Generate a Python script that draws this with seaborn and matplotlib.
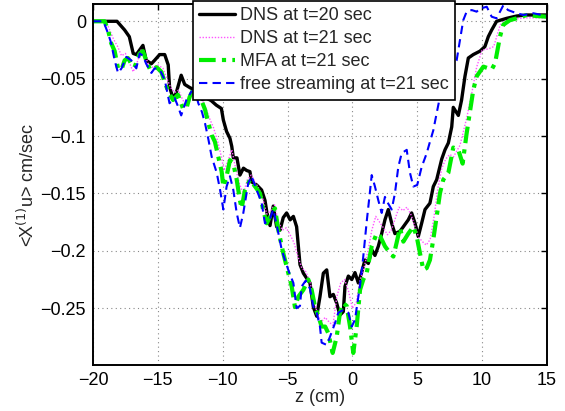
import numpy as np
import pandas as pd
import matplotlib
matplotlib.use("Agg")
import matplotlib.pyplot as plt
import seaborn as sns

# ---- data ----
z_dns20 = [-20, -18.15, -17.56, -17.2, -16.9, -16.66, -16.15, -15.9, -15.5, -15.25, -14.86, -14.47,
           -14.2, -14.1, -13.83, -13.6, -13.2, -12.93, -12.5, -12.1, -11.6, -11.26, -10.9, -10.5,
           -10.1, -9.95, -9.7, -9.44, -9.3, -9.18, -8.9, -8.67, -8.4, -8.15, -7.9, -7.76, -7.38,
           -7.0, -6.74, -6.6, -6.35, -6.1, -5.84, -5.58, -5.33, -5.07, -4.8, -4.55, -4.3, -4.04,
           -3.78, -3.52, -3.27, -3.01, -2.75, -2.5, -2.24, -1.98, -1.73, -1.47, -1.21, -0.96,
           -0.70, -0.57, -0.31, -0.05, 0.2, 0.46, 0.71, 0.97, 1.23, 1.49, 1.74, 2.0, 2.26, 2.51,
           2.77, 3.03, 3.28, 3.67, 3.93, 4.31, 4.57, 4.83, 5.08, 5.34, 5.6, 5.98, 6.24, 6.5,
           6.89, 7.14, 7.4, 7.66, 7.78, 8.17, 8.42, 8.68, 8.94, 9.32, 9.84, 10.22, 10.48, 10.74,
           11.12, 11.9, 12.67, 13.44, 14.2, 15]
u_dns20 = [0, 0, -0.0076, -0.0134, -0.028, -0.029, -0.021, -0.034, -0.037, -0.034, -0.029, -0.029,
           -0.038, -0.057, -0.067, -0.063, -0.047, -0.055, -0.058, -0.060, -0.068, -0.067, -0.069, -0.073,
           -0.076, -0.086, -0.096, -0.102, -0.109, -0.119, -0.119, -0.134, -0.128, -0.130, -0.131, -0.140, -0.1426,
           -0.147, -0.156, -0.166, -0.178, -0.161, -0.179, -0.182, -0.171, -0.167, -0.173, -0.170, -0.179, -0.212,
           -0.2195, -0.224, -0.228, -0.249, -0.257, -0.240, -0.2195, -0.2166, -0.240, -0.238, -0.2456, -0.256,
           -0.253, -0.231, -0.222, -0.225, -0.219, -0.228, -0.219, -0.208, -0.211, -0.199, -0.204, -0.196, -0.185, -0.173,
           -0.164, -0.176, -0.185, -0.183, -0.179, -0.173, -0.167, -0.176, -0.1876, -0.176, -0.164, -0.1585, -0.144, -0.138,
           -0.120, -0.112, -0.106, -0.092, -0.075, -0.082, -0.0686, -0.048, -0.032, -0.029, -0.026, -0.022, -0.0134, -0.0076,
           0.0, 0.0026, 0.0046, 0.0055, 0.0055, 0.0055]

z_dns21 = [-20, -19.0, -18.7, -18.4, -18.1, -17.8, -17.5, -17.2, -16.9, -16.6, -16.3, -16.0, -15.7,
           -15.4, -15.0, -14.6, -14.3, -14.0, -13.7, -13.4, -13.1, -12.8, -12.5, -12.2, -11.9, -11.6,
           -11.3, -11.0, -10.7, -10.4, -10.1, -9.9, -9.6, -9.3, -9.0, -8.7, -8.4, -8.1, -7.8, -7.5,
           -7.2, -6.9, -6.6, -6.3, -6.0, -5.7, -5.4, -5.1, -4.8, -4.5, -4.2, -3.9, -3.6, -3.3, -3.0,
           -2.7, -2.4, -2.1, -1.8, -1.5, -1.2, -0.9, -0.6, -0.3, 0.0, 0.3, 0.6, 0.9, 1.2, 1.5, 1.8,
           2.1, 2.4, 2.7, 3.0, 3.3, 3.6, 3.9, 4.2, 4.5, 4.8, 5.1, 5.4, 5.7, 6.0, 6.3, 6.6, 6.9, 7.2,
           7.5, 7.8, 8.3, 8.8, 9.2, 9.58, 10.0, 10.5, 10.9, 11.4, 11.8, 12.5, 13.5, 15]
u_dns21 = [0, 0, -0.008, -0.016, -0.022, -0.030, -0.028, -0.036, -0.044, -0.036, -0.025, -0.030, -0.038,
           -0.040, -0.038, -0.041, -0.050, -0.058, -0.062, -0.060, -0.068, -0.074, -0.065, -0.060, -0.062, -0.068,
           -0.076, -0.085, -0.093, -0.104, -0.118, -0.130, -0.122, -0.112, -0.128, -0.142, -0.150, -0.138, -0.134, -0.140,
           -0.146, -0.155, -0.168, -0.165, -0.160, -0.175, -0.182, -0.180, -0.186, -0.193, -0.205, -0.215, -0.218, -0.226, -0.240,
           -0.255, -0.262, -0.258, -0.262, -0.265, -0.240, -0.228, -0.225, -0.235, -0.250, -0.245, -0.225, -0.215, -0.200, -0.182, -0.170,
           -0.175, -0.180, -0.186, -0.182, -0.172, -0.162, -0.165, -0.162, -0.168, -0.178, -0.188, -0.192, -0.195, -0.190, -0.170, -0.145, -0.128, -0.120,
           -0.116, -0.118, -0.108, -0.085, -0.063, -0.040, -0.025, -0.024, -0.022, -0.003, 0.0, 0.002, 0.003, 0.003]

z_mfa = [-20, -19.1, -18.84, -18.6, -18.33, -18.07, -17.8, -17.56, -17.3, -17.05, -16.8, -16.4, -16.15,
         -15.9, -15.6, -15.37, -15.1, -14.73, -14.47, -14.2, -13.83, -13.45, -13.06, -12.8, -12.55, -12.3,
         -11.9, -11.6, -11.36, -11.1, -10.85, -10.6, -10.34, -10.08, -9.95, -9.7, -9.44, -9.18, -8.92,
         -8.67, -8.54, -8.28, -7.9, -7.5, -7.12, -6.87, -6.6, -6.22, -5.97, -5.71, -5.33, -4.94, -4.68,
         -4.43, -4.17, -3.78, -3.4, -3.14, -2.88, -2.62, -2.37, -2.1, -1.85, -1.52, -1.21, -0.96, -0.7,
         -0.44, -0.18, 0.07, 0.33, 0.59, 0.84, 1.1, 1.49, 1.87, 2.13, 2.51, 2.9, 3.16, 3.41, 3.67, 3.93,
         4.31, 4.7, 4.96, 5.21, 5.47, 5.73, 5.98, 6.24, 6.5, 6.75, 7.01, 7.4, 7.78, 8.17, 8.5, 8.81, 9.32,
         9.58, 10.1, 10.74, 11.0, 11.38, 11.64, 12.15, 12.67, 13.44, 14.2, 15]
u_mfa = [0, 0, -0.0076, -0.019, -0.026, -0.041, -0.042, -0.034, -0.032, -0.037, -0.040, -0.028, -0.026,
         -0.034, -0.042, -0.042, -0.040, -0.044, -0.053, -0.061, -0.0686, -0.064, -0.076, -0.076, -0.066, -0.060,
         -0.064, -0.070, -0.077, -0.089, -0.099, -0.105, -0.118, -0.131, -0.144, -0.135, -0.121, -0.124, -0.138,
         -0.156, -0.163, -0.147, -0.138, -0.144, -0.150, -0.165, -0.176, -0.167, -0.163, -0.182, -0.202, -0.2195, -0.231,
         -0.249, -0.240, -0.234, -0.225, -0.234, -0.249, -0.257, -0.266, -0.266, -0.272, -0.289, -0.275, -0.254, -0.2456,
         -0.248, -0.266, -0.289, -0.266, -0.234, -0.225, -0.2195, -0.196, -0.185, -0.187, -0.196, -0.202, -0.205, -0.193, -0.180, -0.192,
         -0.185, -0.179, -0.1876, -0.202, -0.2166, -0.215, -0.208, -0.190, -0.170, -0.150, -0.138, -0.132, -0.110, -0.112, -0.124, -0.0976, -0.060,
         -0.048, -0.0395, -0.042, -0.0366, -0.0134, -0.003, 0.001, 0.0026, 0.0055, 0.0046, 0.004]

z_free = [-20, -19.2, -18.84, -18.6, -18.33, -18.07, -17.8, -17.43, -17.05, -16.66, -16.4, -16.15, -15.9,
          -15.5, -15.25, -14.86, -14.47, -14.1, -13.7, -13.45, -13.2, -12.8, -12.4, -12.1, -11.88, -11.6,
          -11.36, -11.1, -10.85, -10.46, -10.2, -9.95, -9.7, -9.44, -9.18, -8.92, -8.67, -8.41, -8.03, -7.77,
          -7.38, -7.0, -6.74, -6.35, -6.1, -5.79, -5.45, -5.2, -4.9, -4.55, -4.3, -4.04, -3.91, -3.6, -3.27,
          -3.0, -2.75, -2.5, -2.37, -1.98, -1.73, -1.34, -1.09, -0.7, -0.31, -0.05, 0.2, 0.33, 0.59, 0.84,
          1.1, 1.36, 1.49, 1.74, 2.0, 2.26, 2.51, 2.77, 3.03, 3.28, 3.54, 3.8, 4.19, 4.44, 4.7, 5.0, 5.34,
          5.73, 5.98, 6.24, 6.5, 6.75, 7.2, 7.6, 8.04, 8.3, 8.55, 8.81, 9.2, 9.58, 9.84, 10.36, 10.74, 11.12,
          11.64, 12.0, 12.67, 13.2, 13.95, 14.6, 15]
u_free = [0, 0, -0.0105, -0.019, -0.034, -0.045, -0.041, -0.031, -0.034, -0.041, -0.028, -0.030, -0.037,
          -0.045, -0.041, -0.042, -0.051, -0.0714, -0.067, -0.074, -0.082, -0.0686, -0.061, -0.062, -0.0714, -0.079,
          -0.089, -0.103, -0.118, -0.132, -0.147, -0.164, -0.144, -0.135, -0.147, -0.167, -0.180, -0.167, -0.141, -0.135,
          -0.147, -0.158, -0.176, -0.172, -0.164, -0.180, -0.199, -0.208, -0.218, -0.228, -0.250, -0.248, -0.231, -0.226, -0.233,
          -0.249, -0.254, -0.266, -0.280, -0.282, -0.275, -0.263, -0.254, -0.2515, -0.254, -0.266, -0.26, -0.25, -0.23, -0.205,
          -0.175, -0.148, -0.134, -0.144, -0.156, -0.167, -0.153, -0.159, -0.164, -0.150, -0.127, -0.115, -0.112, -0.132, -0.144, -0.1426, -0.127,
          -0.115, -0.105, -0.095, -0.080, -0.066, -0.052, -0.042, -0.034, -0.016, 0.001, 0.0084, 0.0098, 0.0084, 0.011, 0.0127, 0.004, 0.0026,
          0.014, 0.0098, 0.007, 0.0055, 0.007, 0.0055, 0.005]

labels = ["DNS at t=20 sec", "DNS at t=21 sec", "MFA at t=21 sec", "free streaming at t=21 sec"]
x_ticks = [-20, -15, -10, -5, 0, 5, 10, 15]
y_ticks = [0, -0.05, -0.1, -0.15, -0.2, -0.25]
y_ticklabels = ["0", "\u22120.05", "\u22120.1", "\u22120.15", "\u22120.2", "\u22120.25"]

# ---- plotting ----
sns.set_style("white")
plt.rcParams["font.family"] = ["Liberation Sans", "DejaVu Sans"]
FS = 13

fig = plt.figure(figsize=(5.65, 4.11), dpi=100)
ax = fig.add_axes([0.1646, 0.1119, 0.8034, 0.8776])

series = [
    (z_dns20, u_dns20, dict(color="black", linewidth=2.4, linestyle="-")),
    (z_dns21, u_dns21, dict(color="#ff55ff", linewidth=1.0, linestyle=(0, (1, 1.2)))),
    (z_mfa, u_mfa, dict(color="#00ee00", linewidth=3.0, linestyle=(0, (4, 1.5, 1, 1.5)))),
    (z_free, u_free, dict(color="#0000ff", linewidth=1.5, linestyle=(0, (4, 2.5)))),
]
for (zz, uu, st), lab in zip(series, labels):
    df = pd.DataFrame({"z": zz, "u": uu})
    sns.lineplot(data=df, x="z", y="u", ax=ax, sort=False, estimator=None,
                 label=lab, **st)

ax.set_xlim(-20, 15)
ax.set_ylim(-0.2995, 0.0148)
ax.set_xticks(x_ticks)
ax.set_xticklabels(["\u2212" + str(-t) if t < 0 else str(t) for t in x_ticks])
ax.set_yticks(y_ticks)
ax.set_yticklabels(y_ticklabels)
ax.grid(True, color="#888888", linestyle=(0, (1, 3)), linewidth=0.8)
for s in ax.spines.values():
    s.set_visible(True)
    s.set_color("black")
    s.set_linewidth(1.4)
ax.tick_params(direction="in", length=4, width=1, top=True, right=True,
               labelsize=FS, colors="black", pad=5)
ax.set_xlabel("z (cm)", fontsize=FS, labelpad=0)
ax.set_ylabel("<X$^{(1)}$u> cm/sec", fontsize=FS, labelpad=2)

leg = ax.legend(loc="upper left", bbox_to_anchor=(0.220, 1.010), fontsize=FS,
                frameon=True, fancybox=False, edgecolor="black", framealpha=1,
                handlelength=2.0, handletextpad=0.25, labelspacing=0.34,
                borderpad=0.35, borderaxespad=0)
leg.get_frame().set_linewidth(1.2)

fig.savefig("out.png", dpi=100)
